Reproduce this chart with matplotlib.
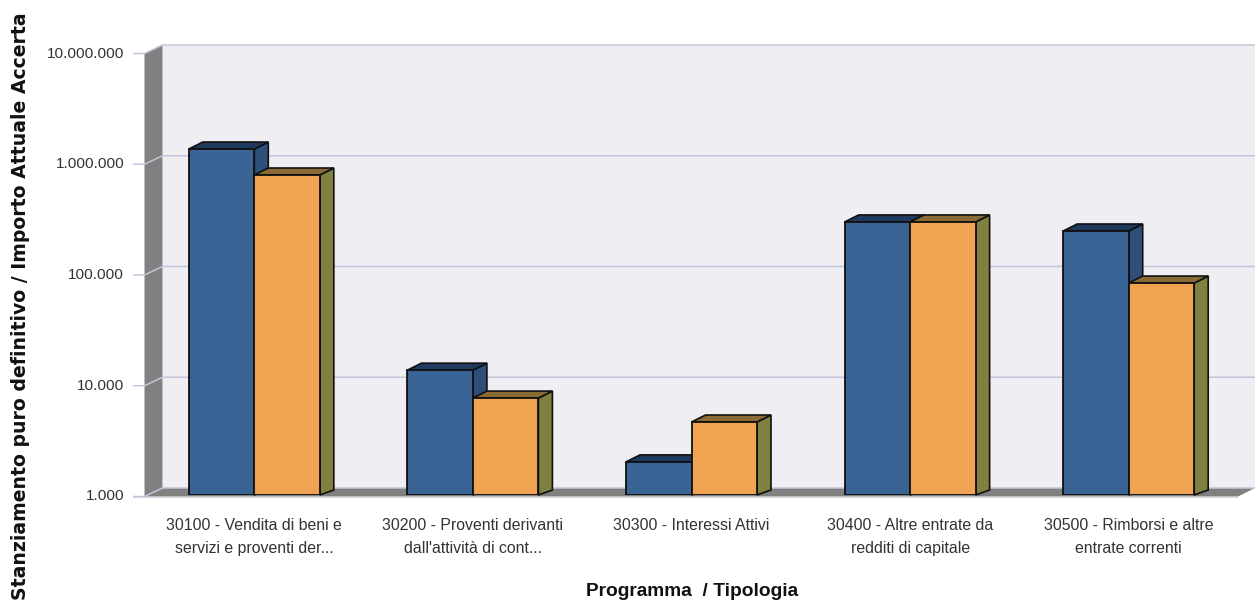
import matplotlib
matplotlib.use("Agg")
import matplotlib.pyplot as plt
from matplotlib.patches import Polygon
from matplotlib.transforms import IdentityTransform
from matplotlib.ticker import FixedLocator, FuncFormatter, NullLocator

plt.rcParams['font.family'] = ['Liberation Sans', 'DejaVu Sans']

categories = ["30100 - Vendita di beni e\nservizi e proventi der...",
              "30200 - Proventi derivanti\ndall'attività di cont...",
              "30300 - Interessi Attivi",
              "30400 - Altre entrate da\nredditi di capitale",
              "30500 - Rimborsi e altre\nentrate correnti"]
stanziamento = [1330000, 13400, 1990, 292000, 242000]
accertato = [775000, 7500, 4560, 292000, 82000]
yticks = [1000, 10000, 100000, 1000000, 10000000]

W, H = 1255, 601
L, R, T, B = 145, 1238, 52, 495
WALL_L, WALL_R = 144.5, 162.5
FRONT, BACK = 1.5, 7      # wall front / back planes relative to the bar plane
DX, DY = 14, 7            # bar depth
fig = plt.figure(figsize=(W / 100, H / 100), dpi=100, facecolor='white')
ax = fig.add_axes([L / W, (H - B) / H, (R - L) / W, (B - T) / H])
ax.set_xlim(-0.5, 4.5)
ax.set_yscale('log')
ax.set_ylim(1000, 10000000)
ax.patch.set_visible(False)
for s in ax.spines.values():
    s.set_visible(False)

disp = IdentityTransform()
def px(x, y):
    return (x, H - y)

def poly(pts, fc, ec='none', lw=0, z=1):
    ax.add_patch(Polygon(pts, closed=True, facecolor=fc, edgecolor=ec, linewidth=lw,
                         transform=disp, clip_on=False, zorder=z, joinstyle='miter'))

GRID = '#C4C4DA'
# back wall, side wall and floor
poly([px(WALL_R, T - BACK), px(W, T - BACK), px(W, B - BACK), px(WALL_R, B - BACK)], '#EEEEF3', z=0.5)
poly([px(WALL_L, T + FRONT), px(WALL_R, T - BACK), px(WALL_R, B - BACK), px(WALL_L, B + FRONT)], '#808080', z=0.8)
poly([px(WALL_L, B + FRONT), px(WALL_R, B - BACK), px(W, B - BACK), px(R, B + FRONT)], '#808080', z=0.8)

# gridlines: tick stub, diagonal on the side wall, line on the back wall
for v in yticks:
    y0 = ax.transData.transform((0, v))[1]
    ax.plot([133, WALL_L, WALL_R, W], [y0 - FRONT, y0 - FRONT, y0 + BACK, y0 + BACK], color=GRID, lw=1.1,
            transform=disp, clip_on=False, zorder=1, solid_capstyle='butt')
ax.plot([133, R], [H - B - FRONT, H - B - FRONT], color='#D4D4E2', lw=0.8, transform=disp,
        clip_on=False, zorder=1.2)

BW = 65.5 / ((R - L) / 5)
EDGE = '#101010'
def bar3d(x, v, front, side, top, z):
    ax.bar(x, v - 1000, width=BW, bottom=1000, align='edge', color=front, edgecolor=EDGE,
           linewidth=1.3, zorder=z + 0.2)
    (x0, y0), (x1, y1) = ax.transData.transform([(x, 1000), (x + BW, v)])
    poly([(x1, y0), (x1 + DX, y0 + DY - 2), (x1 + DX, y1 + DY), (x1, y1)], side, EDGE, 1.2, z)
    poly([(x0, y1), (x0 + DX, y1 + DY), (x1 + DX, y1 + DY), (x1, y1)], top, EDGE, 1.2, z)

for i, (a, b) in enumerate(zip(stanziamento, accertato)):
    bar3d(i - BW, a, '#3A6496', '#2F4F7A', '#1F3A5E', 2 + i)
    bar3d(i, b, '#F0A452', '#808040', '#8A6A35', 2.5 + i)

ax.set_xticks(range(5))
ax.set_xticklabels(categories, fontsize=11.4, color='#333333', linespacing=1.65)
ax.tick_params(axis='x', length=0, pad=16.5)
ax.yaxis.set_major_locator(FixedLocator(yticks))
ax.yaxis.set_minor_locator(NullLocator())
ax.yaxis.set_major_formatter(FuncFormatter(lambda v, p: f"{int(round(v)):,}".replace(',', '.')))
ax.tick_params(axis='y', length=0, pad=15, labelsize=11.1, labelcolor='#333333')

fig.text(692 / W, (H - 592) / H, "Programma  / Tipologia", fontsize=13.8, fontweight='bold',
         ha='center', va='center', color='#111111')
fig.text(21 / W, (H - 600) / H, "Stanziamento puro definitivo / Importo Attuale Accerta",
         fontsize=13.6, fontweight='bold', family=['DejaVu Sans'], rotation=90,
         ha='center', va='bottom', color='#111111')

fig.savefig('out.png', dpi=100, facecolor='white')
